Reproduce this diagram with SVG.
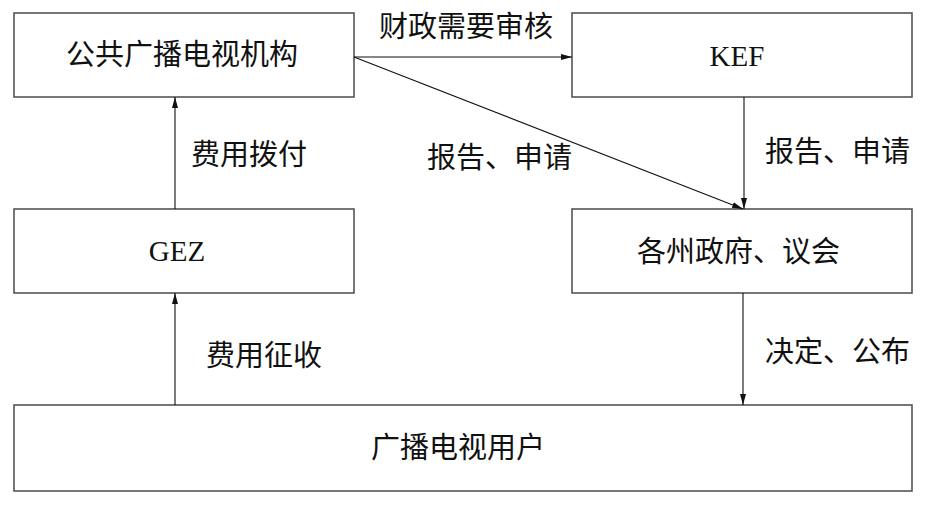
<svg xmlns="http://www.w3.org/2000/svg" width="930" height="509" viewBox="0 0 930 509">
<style>
.box{fill:#fff;stroke:#555;stroke-width:1.6}
.cn{font-family:"Noto Sans CJK SC","Noto Sans CJK JP",sans-serif;font-size:29px;fill:#111}
.lat{font-family:"Liberation Serif",serif;font-size:29px;fill:#111;text-anchor:middle}
.ln{stroke:#111;stroke-width:1.1;fill:none;marker-end:url(#ah)}
</style>
<defs>
<marker id="ah" markerUnits="userSpaceOnUse" markerWidth="12" markerHeight="8" refX="11" refY="4" orient="auto">
<path d="M0,1 L11,4 L0,7 Z" fill="#111"/>
</marker>
</defs>
<rect width="930" height="509" fill="#fff"/>
<g id="node-public">
<rect class="box" x="14" y="13" width="340" height="84"/>
<text class="cn" x="66" y="65">公共广播电视机构</text>
</g>
<g id="node-kef">
<rect class="box" x="572" y="13" width="340" height="84"/>
<text class="lat" x="737" y="66">KEF</text>
</g>
<g id="node-gez">
<rect class="box" x="14" y="209" width="340" height="84"/>
<text class="lat" x="177" y="261">GEZ</text>
</g>
<g id="node-state">
<rect class="box" x="572" y="209" width="340" height="84"/>
<text class="cn" x="637" y="262">各州政府、议会</text>
</g>
<g id="node-users">
<rect class="box" x="14" y="405" width="898" height="86"/>
<text class="cn" x="371" y="458">广播电视用户</text>
</g>
<g id="connectors">
<line class="ln" x1="354" y1="57" x2="572" y2="57"/>
<line class="ln" x1="354" y1="57" x2="743" y2="209"/>
<line class="ln" x1="744" y1="97" x2="744" y2="209"/>
<line class="ln" x1="175" y1="209" x2="175" y2="97"/>
<line class="ln" x1="175" y1="405" x2="175" y2="293"/>
<line class="ln" x1="743" y1="293" x2="743" y2="405"/>
</g>
<g id="labels">
<text class="cn" x="379" y="37">财政需要审核</text>
<text class="cn" x="191" y="165">费用拨付</text>
<text class="cn" x="427" y="168">报告、申请</text>
<text class="cn" x="765" y="162">报告、申请</text>
<text class="cn" x="206" y="366">费用征收</text>
<text class="cn" x="765" y="362">决定、公布</text>
</g>
</svg>
